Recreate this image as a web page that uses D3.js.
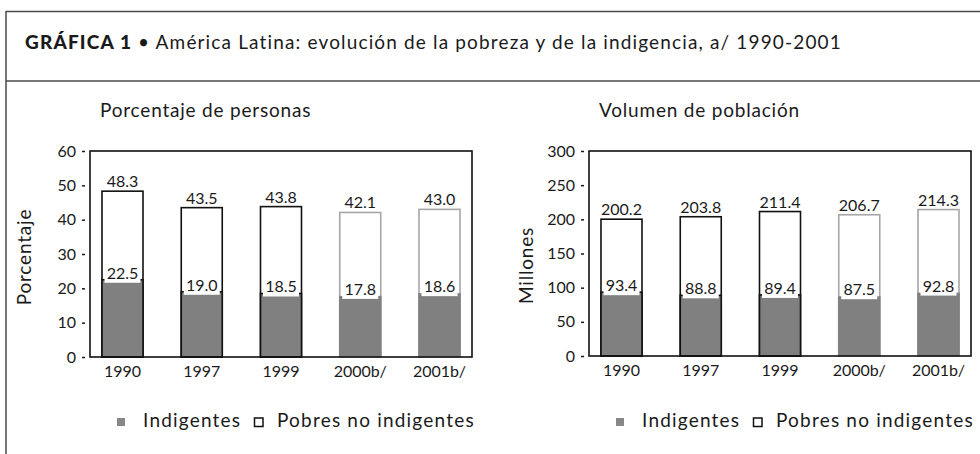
<!DOCTYPE html>
<html>
<head>
<meta charset="utf-8">
<script src="https://cdn.jsdelivr.net/npm/d3@7"></script>
<style>
  body { margin: 0; background: #fff; }
  svg { display: block; }
  text { font-family: Lato, "Open Sans", sans-serif; fill: #1a1a1a; }
  .big { font-size: 19px; letter-spacing: 0.8px; }
  .legend-text { letter-spacing: 1.2px; }
</style>
</head>
<body>
<div id="chart"></div>
<script>
// data
const years = ["1990", "1997", "1999", "2000b/", "2001b/"];
const projected = [false, false, false, true, true];
const pctPobreza = [48.3, 43.5, 43.8, 42.1, 43.0];
const pctIndigencia = [22.5, 19.0, 18.5, 17.8, 18.6];
const volPobreza = [200.2, 203.8, 211.4, 206.7, 214.3];
const volIndigencia = [93.4, 88.8, 89.4, 87.5, 92.8];
const pctTicks = [0, 10, 20, 30, 40, 50, 60];
const volTicks = [0, 50, 100, 150, 200, 250, 300];
const legendLabels = ["Indigentes", "Pobres no indigentes"];

const W = 980, H = 454;
const frameColor = "#4a4a4a";
const grayFill = "#808080";

const svg = d3.select("#chart").append("svg")
    .attr("width", W)
    .attr("height", H);

// outer frame
svg.append("line").attr("x1", 6).attr("x2", W).attr("y1", 11.5).attr("y2", 11.5)
    .attr("stroke", frameColor).attr("stroke-width", 1.5);
svg.append("line").attr("x1", 6).attr("x2", W).attr("y1", 81).attr("y2", 81)
    .attr("stroke", frameColor).attr("stroke-width", 1.5);
svg.append("line").attr("x1", 6).attr("x2", 6).attr("y1", 11).attr("y2", H)
    .attr("stroke", frameColor).attr("stroke-width", 1.5);

// title
const title = svg.append("text")
    .attr("class", "big")
    .attr("x", 25)
    .attr("y", 49)
    .style("letter-spacing", "1.15px");
title.append("tspan").style("font-weight", 900).text("GRÁFICA 1");
title.append("tspan").text(" • América Latina: evolución de la pobreza y de la indigencia, a/ 1990-2001");

function drawPanel(cfg) {
    const g = svg.append("g");

    const x = d3.scalePoint()
        .domain(years)
        .range([cfg.x0, cfg.x1])
        .padding(0.41);

    const y = d3.scaleLinear()
        .domain([0, d3.max(cfg.ticks)])
        .range([cfg.y1, cfg.y0]);

    const barW = 41;

    const rows = years.map((yr, i) => ({
        year: yr,
        total: cfg.total[i],
        ind: cfg.ind[i],
        proj: projected[i]
    }));

    // subtitle
    g.append("text")
        .attr("class", "big")
        .attr("x", cfg.x0 + 10)
        .attr("y", 117)
        .text(cfg.subtitle);

    // y axis title
    g.append("text")
        .attr("class", "big")
        .attr("transform", `translate(${cfg.titleX}, ${(cfg.y0 + cfg.y1) / 2 + cfg.titleDy}) rotate(-90)`)
        .attr("text-anchor", "middle")
        .text(cfg.axisTitle);

    // y axis
    const yAxis = g.append("g")
        .attr("transform", `translate(${cfg.x0}, 0)`)
        .call(d3.axisLeft(y).tickValues(cfg.ticks).tickSize(0).tickPadding(14));
    yAxis.select(".domain").remove();
    yAxis.selectAll("text")
        .style("font-family", "Lato, sans-serif")
        .style("font-size", "16px")
        .attr("fill", "#1a1a1a");
    yAxis.selectAll(".tick").append("line")
        .attr("x1", -8)
        .attr("x2", -5)
        .attr("stroke", "#1a1a1a")
        .attr("stroke-width", 1.5);

    // bars: whole poverty (white) then indigence (gray)
    g.selectAll(".bar-total")
        .data(rows)
        .enter()
        .append("rect")
        .attr("class", "bar-total")
        .attr("x", d => x(d.year) - barW / 2)
        .attr("y", d => y(d.total))
        .attr("width", barW)
        .attr("height", d => y(0) - y(d.total))
        .attr("fill", "#fff")
        .attr("stroke", d => d.proj ? "#a6a6a6" : "#111")
        .attr("stroke-width", 1.6);

    g.selectAll(".bar-ind")
        .data(rows)
        .enter()
        .append("rect")
        .attr("class", "bar-ind")
        .attr("x", d => x(d.year) - barW / 2 + (d.proj ? -0.8 : 0))
        .attr("y", d => y(d.ind))
        .attr("width", d => barW + (d.proj ? 1.6 : 0))
        .attr("height", d => y(0) - y(d.ind))
        .attr("fill", grayFill)
        .attr("stroke", d => d.proj ? "none" : "#111")
        .attr("stroke-width", 1.6);

    // plot frame
    g.append("rect")
        .attr("x", cfg.x0)
        .attr("y", cfg.y0)
        .attr("width", cfg.x1 - cfg.x0)
        .attr("height", cfg.y1 - cfg.y0)
        .attr("fill", "none")
        .attr("stroke", "#111")
        .attr("stroke-width", 1.6);

    // value labels on top
    g.selectAll(".lbl-total")
        .data(rows)
        .enter()
        .append("text")
        .attr("class", "lbl-total")
        .attr("x", d => x(d.year))
        .attr("y", d => y(d.total) - 4)
        .attr("text-anchor", "middle")
        .style("font-size", "16px")
        .text(d => d.total.toFixed(1));

    // indigence labels with white backing
    const lblInd = g.selectAll(".lbl-ind")
        .data(rows)
        .enter()
        .append("g")
        .attr("class", "lbl-ind")
        .attr("transform", d => `translate(${x(d.year)}, ${y(d.ind) - 1})`);
    lblInd.append("rect")
        .attr("x", -18)
        .attr("y", -14)
        .attr("width", 36)
        .attr("height", 18)
        .attr("fill", "#fff");
    lblInd.append("text")
        .attr("text-anchor", "middle")
        .style("font-size", "16px")
        .text(d => d.ind.toFixed(1));

    // x labels
    g.selectAll(".lbl-year")
        .data(rows)
        .enter()
        .append("text")
        .attr("class", "lbl-year")
        .attr("x", d => x(d.year))
        .attr("y", cfg.y1 + 20)
        .attr("text-anchor", "middle")
        .style("font-size", "16px")
        .text(d => d.year);

    // legend
    const lg = g.append("g").attr("transform", `translate(${cfg.x0}, 0)`);
    lg.append("rect")
        .attr("x", 27).attr("y", 418).attr("width", 8).attr("height", 8)
        .attr("fill", "#888");
    lg.append("text")
        .attr("class", "big legend-text")
        .attr("x", 53).attr("y", 427)
        .text(legendLabels[0]);
    lg.append("rect")
        .attr("x", 164.5).attr("y", 418).attr("width", 8.5).attr("height", 8.5)
        .attr("fill", "#fff").attr("stroke", "#111").attr("stroke-width", 1.5);
    lg.append("text")
        .attr("class", "big legend-text")
        .attr("x", 187).attr("y", 427)
        .text(legendLabels[1]);
}

drawPanel({
    x0: 90, x1: 472, y0: 151, y1: 357,
    ticks: pctTicks,
    total: pctPobreza,
    ind: pctIndigencia,
    subtitle: "Porcentaje de personas",
    axisTitle: "Porcentaje",
    titleX: 31, titleDy: 3
});

drawPanel({
    x0: 589, x1: 971, y0: 151, y1: 356,
    ticks: volTicks,
    total: volPobreza,
    ind: volIndigencia,
    subtitle: "Volumen de población",
    axisTitle: "Millones",
    titleX: 533, titleDy: 12
});
</script>
</body>
</html>
